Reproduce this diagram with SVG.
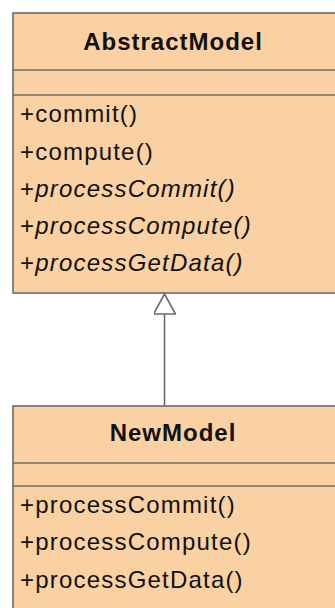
<svg xmlns="http://www.w3.org/2000/svg" width="335" height="608" viewBox="0 0 335 608">
  <defs>
    <style>
      .box { fill: #f9d1a3; stroke: #6b6b6b; stroke-width: 1.6; }
      .sep { stroke: #6b6b6b; stroke-width: 1.6; }
      .title { font-family: "Liberation Sans", Arial, sans-serif; font-weight: bold; font-size: 24px; letter-spacing: 1px; fill: #111; text-anchor: middle; }
      .op { font-family: "Liberation Sans", Arial, sans-serif; font-size: 24px; letter-spacing: 1.2px; fill: #111; }
      .abs { font-style: italic; }
      .conn { stroke: #6b6b6b; stroke-width: 1.6; fill: none; }
    </style>
    <marker id="gen" markerWidth="24" markerHeight="22" refX="22" refY="11" orient="auto" markerUnits="userSpaceOnUse">
      <path d="M 22 11 L 2 0 L 2 22 Z" fill="#ffffff" stroke="#6b6b6b" stroke-width="1.6"/>
    </marker>
  </defs>
  <rect width="335" height="608" fill="#ffffff"/>
  <g id="connectors">
    <line class="conn" x1="164.5" y1="406" x2="164.5" y2="294" marker-end="url(#gen)"/>
  </g>
  <g id="AbstractModel">
    <rect class="box" x="13" y="13" width="330" height="280"/>
    <line class="sep" x1="13" y1="70" x2="343" y2="70"/>
    <line class="sep" x1="13" y1="95" x2="343" y2="95"/>
    <text class="title" x="173" y="50">AbstractModel</text>
    <text class="op" x="20" y="122">+commit()</text>
    <text class="op" x="20" y="160">+compute()</text>
    <text class="op" x="20" y="197">+<tspan class="abs">processCommit()</tspan></text>
    <text class="op" x="20" y="234">+<tspan class="abs">processCompute()</tspan></text>
    <text class="op" x="20" y="271">+<tspan class="abs">processGetData()</tspan></text>
  </g>
  <g id="NewModel">
    <rect class="box" x="13" y="406" width="330" height="210"/>
    <line class="sep" x1="13" y1="463" x2="343" y2="463"/>
    <line class="sep" x1="13" y1="486" x2="343" y2="486"/>
    <text class="title" x="173" y="441">NewModel</text>
    <text class="op" x="20" y="513">+processCommit()</text>
    <text class="op" x="20" y="550">+processCompute()</text>
    <text class="op" x="20" y="588">+processGetData()</text>
  </g>
</svg>
